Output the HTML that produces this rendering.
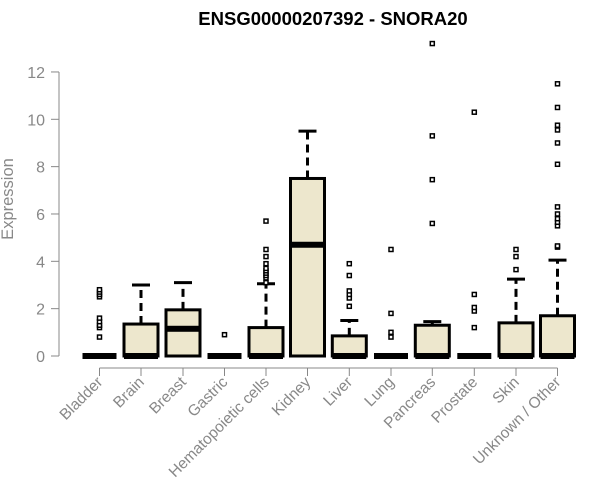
<!DOCTYPE html>
<html><head><meta charset="utf-8"><style>body{margin:0;background:#fff}svg{display:block;font-family:"Liberation Sans",Arial,sans-serif}</style></head>
<body>
<svg id="s" width="600" height="500" xmlns="http://www.w3.org/2000/svg">
<text x="333" y="25" text-anchor="middle" font-weight="bold" font-size="18.5">ENSG00000207392 - SNORA20</text>
<text transform="translate(13,199) rotate(-90)" text-anchor="middle" font-size="16.5" fill="#888">Expression</text>
</svg>
<script>
var s=document.getElementById('s'),h='';
function Y(v){return 356-23.67*v;}
h+='<path d="M59 356V72" stroke="#888" fill="none"/>';
for(var v=0;v<=12;v+=2){var y=Y(v);h+='<path d="M51 '+y+'H59" stroke="#888"/><text x="45" y="'+(y+6)+'" text-anchor="end" font-size="16" fill="#888">'+v+'</text>';}
var xs=[99.5,141,183,224.5,266,307.5,349.3,391,432.3,474.3,516,557.5];
h+='<path d="M99.5 368H557.5" stroke="#888"/>';
var D=[
["Bladder",0,0,0,0,[0.8,1.2,1.3,1.45,1.6,2.5,2.6,2.7,2.8]],
["Brain",0,0,1.35,3.0,[]],
["Breast",0,1.15,1.95,3.1,[]],
["Gastric",0,0,0,0,[0.9]],
["Hematopoietic cells",0,0,1.2,3.05,[3.1,3.3,3.4,3.5,3.6,3.7,3.9,4.2,4.5,5.7]],
["Kidney",0,4.7,7.5,9.5,[]],
["Liver",0,0,0.85,1.5,[2.1,2.45,2.6,2.75,3.4,3.9]],
["Lung",0,0,0,0,[0.8,1.0,1.8,4.5]],
["Pancreas",0,0,1.3,1.45,[5.6,7.45,9.3,13.2]],
["Prostate",0,0,0,0,[1.2,1.9,2.05,2.6,10.3]],
["Skin",0,0,1.4,3.25,[3.65,4.2,4.5]],
["Unknown / Other",0,0,1.7,4.05,[4.6,4.65,5.5,5.65,5.8,6.0,6.3,8.1,9.0,9.55,9.75,10.5,11.5]]];
D.forEach(function(d,i){var x=xs[i];
 h+='<path d="M'+x+' 368v8" stroke="#888"/>';
 h+='<text transform="translate('+(x+4)+',383) rotate(-45)" text-anchor="end" font-size="15.5" fill="#888">'+d[0]+'</text>';
 if(d[4]>d[3]){h+='<path d="M'+x+' '+Y(d[3])+'V'+Y(d[4])+'" stroke="#000" stroke-width="3" stroke-dasharray="8,5"/><path d="M'+(x-9)+' '+Y(d[4])+'H'+(x+9)+'" stroke="#000" stroke-width="3"/>';}
 if(d[3]>0)h+='<rect x="'+(x-17)+'" y="'+Y(d[3])+'" width="34" height="'+(Y(0)-Y(d[3]))+'" fill="#ede7cd" stroke="#000" stroke-width="3"/>';
 h+='<rect x="'+(x-17)+'" y="'+(Y(d[2])-3)+'" width="34" height="6" fill="#000"/>';
 d[5].forEach(function(o){h+='<rect x="'+(x-2)+'" y="'+(Y(o)-2)+'" width="4" height="4" fill="#fff" stroke="#000" stroke-width="1.5"/>';});
});
s.insertAdjacentHTML('beforeend',h);
</script>
</body></html>
